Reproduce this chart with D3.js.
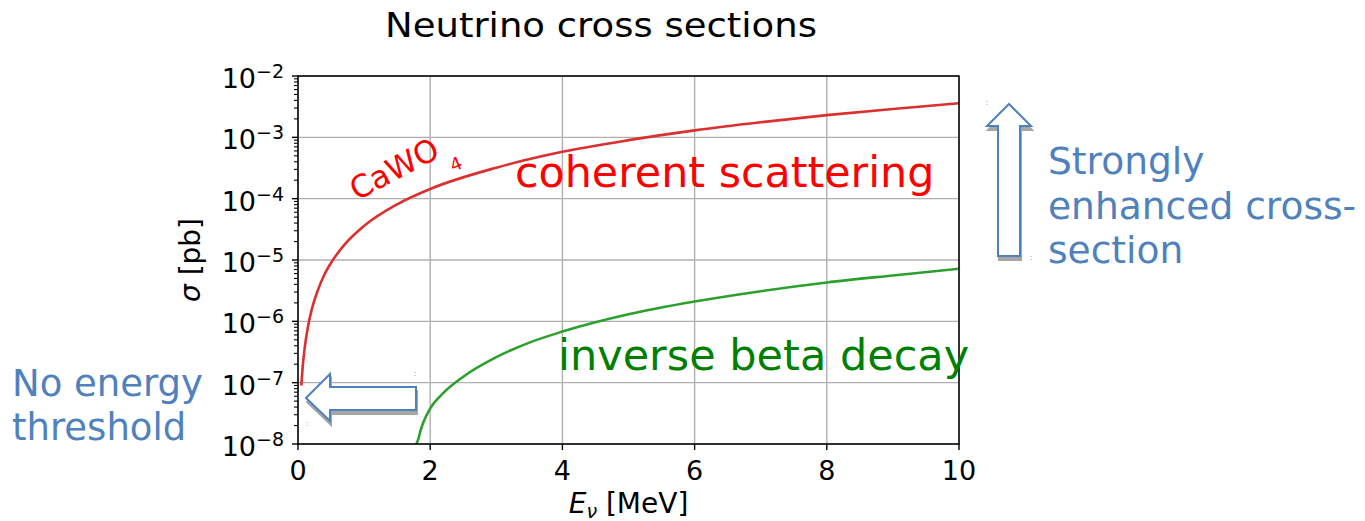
<!DOCTYPE html>
<html>
<head>
<meta charset="utf-8">
<script src="https://cdn.jsdelivr.net/npm/d3@7"></script>
<style>
  html, body { margin: 0; padding: 0; background: #ffffff; }
  svg { display: block; }
  text { font-family: "DejaVu Sans", Verdana, sans-serif; }
</style>
</head>
<body>
<svg id="chart" width="1365" height="521"></svg>
<script>
// ---------------- data ----------------
const title = "Neutrino cross sections";
const xTicks = [0, 2, 4, 6, 8, 10];
const yTickExponents = [-8, -7, -6, -5, -4, -3, -2];

// coherent neutrino-nucleus scattering on CaWO4 (pb)
const cohE     = [0.05, 0.07, 0.1, 0.15, 0.2, 0.3, 0.4, 0.5, 0.7, 1, 1.5, 2, 3, 4, 5, 6, 7, 8, 9, 10];
const cohSigma = [9e-8, 1.76e-7, 3.6e-7, 8.1e-7, 1.44e-6, 3.2e-6, 5.8e-6, 9e-6, 1.76e-5, 3.6e-5, 8.1e-5,
                  1.44e-4, 3.2e-4, 5.8e-4, 9e-4, 1.3e-3, 1.76e-3, 2.3e-3, 2.9e-3, 3.6e-3];

// inverse beta decay (pb)
const ibdE     = [1.79, 1.82, 1.85, 1.9, 2.0, 2.2, 2.5, 3, 3.5, 4, 5, 6, 7, 8, 9, 10];
const ibdSigma = [1.0e-8, 1.2e-8, 1.6e-8, 2.3e-8, 3.8e-8, 6.8e-8, 1.25e-7, 2.6e-7, 4.5e-7,
                  6.8e-7, 1.3e-6, 2.1e-6, 3.1e-6, 4.3e-6, 5.6e-6, 7.2e-6];

// ---------------- layout ----------------
const svg = d3.select("#chart");
const plot = { left: 298, right: 959, top: 76, bottom: 444 };

const x = d3.scaleLinear().domain([0, 10]).range([plot.left, plot.right]);
const y = d3.scaleLog().domain([1e-8, 1e-2]).range([plot.bottom, plot.top]);

const gridColor = "#b0b0b0";

// clip
svg.append("defs").append("clipPath").attr("id", "plotClip")
  .append("rect")
  .attr("x", plot.left).attr("y", plot.top)
  .attr("width", plot.right - plot.left).attr("height", plot.bottom - plot.top);

// grid
const grid = svg.append("g");
grid.selectAll("line.gx").data(xTicks).join("line")
  .attr("x1", d => x(d)).attr("x2", d => x(d))
  .attr("y1", plot.top).attr("y2", plot.bottom)
  .attr("stroke", gridColor).attr("stroke-width", 1.4);
grid.selectAll("line.gy").data(yTickExponents).join("line")
  .attr("x1", plot.left).attr("x2", plot.right)
  .attr("y1", d => y(Math.pow(10, d))).attr("y2", d => y(Math.pow(10, d)))
  .attr("stroke", gridColor).attr("stroke-width", 1.4);

// curves
const line = d3.line().x(d => x(d[0])).y(d => y(d[1])).curve(d3.curveMonotoneX);
const curves = svg.append("g").attr("clip-path", "url(#plotClip)");
curves.append("path")
  .datum(cohE.map((e, i) => [e, cohSigma[i]]))
  .attr("d", line).attr("fill", "none")
  .attr("stroke", "#dc2f2f").attr("stroke-width", 2.6);
curves.append("path")
  .datum(ibdE.map((e, i) => [e, ibdSigma[i]]))
  .attr("d", line).attr("fill", "none")
  .attr("stroke", "#2ca02c").attr("stroke-width", 2.6);

// x axis ticks + labels
const axes = svg.append("g");
axes.selectAll("line.xt").data(xTicks).join("line")
  .attr("x1", d => x(d)).attr("x2", d => x(d))
  .attr("y1", plot.bottom).attr("y2", plot.bottom + 6)
  .attr("stroke", "#000").attr("stroke-width", 1.4);
axes.selectAll("text.xl").data(xTicks).join("text")
  .attr("x", d => x(d)).attr("y", plot.bottom + 36)
  .attr("text-anchor", "middle").attr("font-size", 27).attr("fill", "#000")
  .text(d => d);

// y axis ticks (major + minor)
const minor = [];
yTickExponents.slice(0, -1).forEach(e => {
  for (let m = 2; m <= 9; m++) minor.push(m * Math.pow(10, e));
});
axes.selectAll("line.ymi").data(minor).join("line")
  .attr("x1", plot.left - 4).attr("x2", plot.left)
  .attr("y1", d => y(d)).attr("y2", d => y(d))
  .attr("stroke", "#000").attr("stroke-width", 1.1);
axes.selectAll("line.yma").data(yTickExponents).join("line")
  .attr("x1", plot.left - 6).attr("x2", plot.left)
  .attr("y1", d => y(Math.pow(10, d))).attr("y2", d => y(Math.pow(10, d)))
  .attr("stroke", "#000").attr("stroke-width", 1.4);
const yl = axes.selectAll("text.yl").data(yTickExponents).join("text")
  .attr("x", plot.left - 14).attr("y", d => y(Math.pow(10, d)) + 12)
  .attr("text-anchor", "end").attr("fill", "#000");
yl.append("tspan").attr("font-size", 27).text("10");
yl.append("tspan").attr("font-size", 19).attr("dy", -10).text(d => "\u2212" + Math.abs(d));

// spines
svg.append("rect")
  .attr("x", plot.left).attr("y", plot.top)
  .attr("width", plot.right - plot.left).attr("height", plot.bottom - plot.top)
  .attr("fill", "none").attr("stroke", "#000").attr("stroke-width", 1.5);

// axis labels
const xlab = svg.append("text")
  .attr("x", (plot.left + plot.right) / 2).attr("y", 513)
  .attr("text-anchor", "middle").attr("font-size", 28).attr("fill", "#000");
xlab.append("tspan").attr("font-style", "italic").text("E");
xlab.append("tspan").attr("font-size", 19).attr("font-style", "italic").attr("dy", 5).text("\u03BD");
xlab.append("tspan").attr("dy", -5).text(" [MeV]");

const ylab = svg.append("text")
  .attr("transform", `translate(200, ${(plot.top + plot.bottom) / 2}) rotate(-90)`)
  .attr("text-anchor", "middle").attr("font-size", 28).attr("fill", "#000");
ylab.append("tspan").attr("font-style", "italic").text("\u03C3");
ylab.append("tspan").text(" [pb]");

// title
svg.append("text")
  .attr("x", 601).attr("y", 37)
  .attr("text-anchor", "middle").attr("font-size", 33).attr("fill", "#000")
  .attr("textLength", 432).attr("lengthAdjust", "spacingAndGlyphs")
  .text(title);

// curve labels
svg.append("text").attr("x", 515).attr("y", 187)
  .attr("font-size", 42.8).attr("fill", "#ff0000").text("coherent scattering");
svg.append("text").attr("x", 558).attr("y", 370)
  .attr("font-size", 43).attr("fill", "#008000").text("inverse beta decay");
svg.append("text").attr("transform", "translate(357,201) rotate(-28)")
  .attr("font-size", 31).attr("fill", "#ff0000").text("CaWO");
svg.append("text").attr("transform", "translate(453,172) rotate(-22)")
  .attr("font-size", 18).attr("fill", "#ff0000").text("4");

// ---------------- annotations (overlay) ----------------
const blue = "#4f81bd";
const shadow = "#a6a6a6";
const ann = svg.append("g");

const leftArrow = [[306,398],[330,374],[330,387],[416,387],[416,410],[330,410],[330,421]];
const upArrow = [[1009,104],[1031,126],[1020,126],[1020,256],[998,256],[998,126],[987,126]];
[leftArrow, upArrow].forEach(pts => {
  ann.append("polygon")
    .attr("points", pts.map(p => [p[0] + 1, p[1] + 4].join(",")).join(" "))
    .attr("fill", shadow).attr("stroke", shadow).attr("stroke-width", 2);
  ann.append("polygon")
    .attr("points", pts.map(p => p.join(",")).join(" "))
    .attr("fill", "#ffffff").attr("stroke", blue).attr("stroke-width", 2)
    .attr("stroke-linejoin", "miter");
});
// tiny selection handle marks
[[415,372],[307,422],[987,101],[1031,256]].forEach(p => {
  ann.append("line").attr("x1", p[0]).attr("x2", p[0])
    .attr("y1", p[1]).attr("y2", p[1] + 5)
    .attr("stroke", "#8ea9cf").attr("stroke-width", 1).attr("stroke-dasharray", "1,2");
});

const noThresh = ann.append("text").attr("font-size", 37).attr("fill", blue);
noThresh.append("tspan").attr("x", 12).attr("y", 396).text("No energy");
noThresh.append("tspan").attr("x", 12).attr("y", 440).text("threshold");

const strong = ann.append("text").attr("font-size", 37.6).attr("fill", blue);
strong.append("tspan").attr("x", 1048).attr("y", 174).text("Strongly");
strong.append("tspan").attr("x", 1048).attr("y", 219).text("enhanced cross-");
strong.append("tspan").attr("x", 1048).attr("y", 263).text("section");
</script>
</body>
</html>
